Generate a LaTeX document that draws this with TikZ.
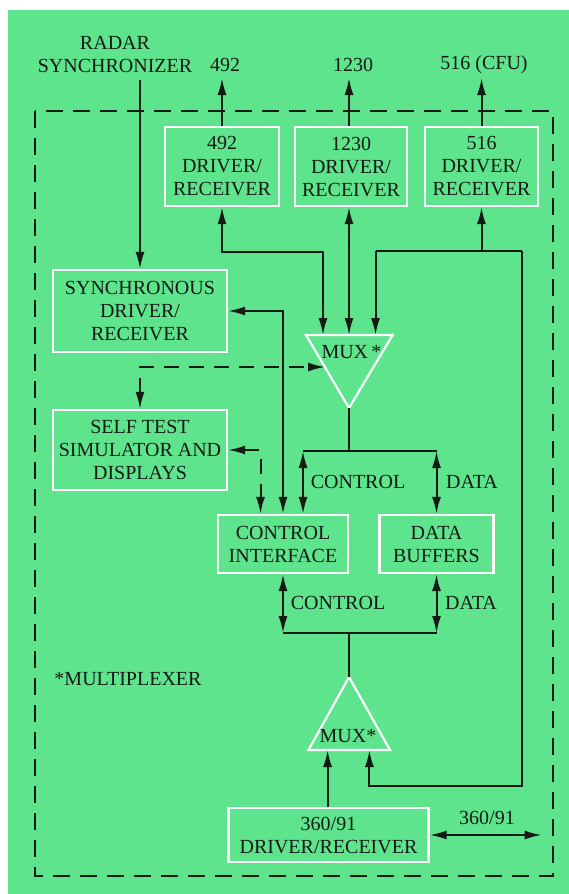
\documentclass[tikz,border=0pt]{standalone}
\usepackage{fontspec}
\setmainfont{Liberation Serif}
\usetikzlibrary{positioning,arrows.meta,calc}
\definecolor{bggreen}{HTML}{5FE48E}
\definecolor{inkdark}{HTML}{141A14}
\tikzset{
  unit/.style  ={draw=white, line width=2.2pt, inner sep=0pt, align=center, text=inkdark},
  muxtri/.style={draw=white, line width=2.2pt, line join=miter},
  lbl/.style   ={inner sep=0pt, text=inkdark, align=center},
  wire/.style  ={draw=inkdark, line width=2pt},
  link/.style  ={wire, -{Latex[length=17pt,width=9pt]}},
  dlink/.style ={wire, {Latex[length=17pt,width=9pt]}-{Latex[length=17pt,width=9pt]}},
  probe/.style ={dash pattern=on 15pt off 10pt},
  frame/.style ={wire, dash pattern=on 17pt off 10pt},
}

\begin{document}
\begin{tikzpicture}[x=1pt, y=-1pt, font=\fontsize{20}{23}\selectfont]
  \useasboundingbox (0,0) rectangle (569,894);
  \fill[white] (0,0) rectangle (569,894);
  \fill[bggreen] (8,10) rectangle (569,894);
  \draw[frame] (35,111) rectangle (553,876);

  % top labels and free ends
  \node[lbl] (radar)   at (115,54) {RADAR\\SYNCHRONIZER};
  \node[lbl] (out492)  at (225,65) {492};
  \node[lbl] (out1230) at (353,65) {1230};
  \node[lbl] (out516)  at (484,65) {516 (CFU)};
  \coordinate (radarfoot) at (140,80);
  \coordinate (tip492)  at (222,78);
  \coordinate (tip1230) at (349,78);
  \coordinate (tip516)  at (481.5,78);

  % boxes
  \node[unit, minimum width=114pt, minimum height=79pt] (drv492)  at (222,166.5)   {492\\DRIVER/\\RECEIVER};
  \node[unit, minimum width=112pt, minimum height=79pt] (drv1230) at (351,166.5)   {1230\\DRIVER/\\RECEIVER};
  \node[unit, minimum width=113pt, minimum height=79pt] (drv516)  at (481.5,166.5) {516\\DRIVER/\\RECEIVER};
  \node[unit, minimum width=174pt, minimum height=82pt] (sync)     at (140,311) {SYNCHRONOUS\\DRIVER/\\RECEIVER};
  \node[unit, minimum width=174pt, minimum height=80pt] (selftest) at (140,450) {SELF TEST\\SIMULATOR AND\\DISPLAYS};
  \node[unit, minimum width=130pt, minimum height=58pt] (ctrlif)   at (283,544) {CONTROL\\INTERFACE};
  \node[unit, minimum width=114pt, minimum height=58pt] (databuf)  at (436.5,544) {DATA\\BUFFERS};
  \node[unit, minimum width=200pt, minimum height=54pt] (drv360)   at (328.5,835) {360/91\\DRIVER/RECEIVER};

  % multiplexers
  \coordinate (muxA1) at (306,335);
  \coordinate (muxA2) at (392.6,335);
  \coordinate (muxA3) at (349,408);
  \draw[muxtri] (muxA1) -- (muxA2) -- (muxA3) -- cycle;
  \node[lbl] (muxa) at (351.5,352) {MUX\,*};
  \coordinate (muxB1) at (349,677);
  \coordinate (muxB2) at (308.5,750);
  \coordinate (muxB3) at (390,750);
  \draw[muxtri] (muxB1) -- (muxB2) -- (muxB3) -- cycle;
  \node[lbl] (muxb) at (348,736) {MUX*};

  \coordinate (muxin1) at (323,335);
  \coordinate (muxin2) at (349,335);
  \coordinate (muxin3) at (375.5,335);
  \coordinate (muxin4) at (327.6,750);
  \coordinate (muxin5) at (369.4,750);
  \coordinate (muxwest) at (325,367);

  % outside links
  \draw[link] (radarfoot) -- (sync.north);
  \draw[link] (drv492.north) -- (tip492);
  \draw[link] (drv1230.north -| tip1230) -- (tip1230);
  \draw[link] (drv516.north) -- (tip516);

  % driver links into the upper mux
  \coordinate (j516w) at (375.5,251);
  \coordinate (j516e) at (522,251);
  \coordinate (loopcorner) at (522,786);
  \draw[dlink] (drv492.south) -- ++(0,45) -| (muxin1);
  \draw[dlink] (drv1230.south -| muxin2) -- (muxin2);
  \draw[link] (drv516.south |- j516e) -- (drv516.south);
  \draw[wire] (j516w) -- (j516e);
  \draw[link] (j516w) -- (muxin3);
  \draw[link] (j516e) -- (loopcorner) -| (muxin5);

  % sync and self test
  \draw[dlink] (sync.east) -| (ctrlif.north);
  \draw[dlink, probe] (selftest.east) -| ([xshift=-22.5pt]ctrlif.north);
  \draw[dlink, probe] (selftest.north) |- (muxwest);

  % buses
  \coordinate (busAl) at (303,451);
  \coordinate (busAr) at (436.5,451);
  \draw[wire] (muxA3) -- (muxA3 |- busAl);
  \draw[wire] (busAl) -- (busAr);
  \draw[dlink] (busAl) -- (busAl |- ctrlif.north);
  \draw[dlink] (busAr) -- (databuf.north);
  \coordinate (busBl) at (283,633);
  \coordinate (busBr) at (436.5,633);
  \draw[dlink] (ctrlif.south) -- (busBl);
  \draw[dlink] (databuf.south) -- (busBr);
  \draw[wire] (busBl) -- (busBr);
  \draw[wire] (muxB1 |- busBl) -- (muxB1);

  \draw[link] (drv360.north -| muxin4) -- (muxin4);
  \coordinate (ext360) at (541.7,835);
  \draw[dlink] (drv360.east) -- (ext360);

  % labels
  \node[lbl] (ctrltagA) at (358,482) {CONTROL};
  \node[lbl] (datatagA) at (472,482) {DATA};
  \node[lbl] (ctrltagB) at (338,603) {CONTROL};
  \node[lbl] (datatagB) at (471,603) {DATA};
  \node[lbl] (tag360)   at (487,818) {360/91};
  \node[lbl] (muxnote)  at (128,679) {*MULTIPLEXER};
\end{tikzpicture}
\end{document}
